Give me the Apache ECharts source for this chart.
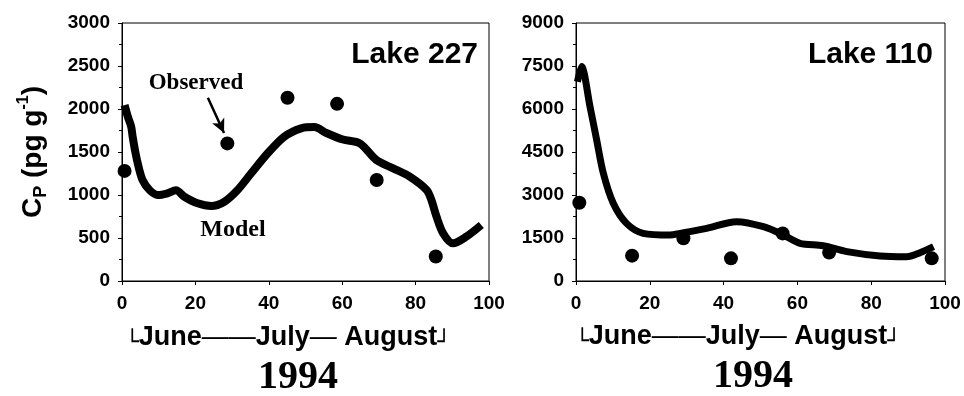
<!DOCTYPE html>
<html>
<head>
<meta charset="utf-8">
<script src="https://cdn.jsdelivr.net/npm/echarts@6/dist/echarts.min.js"></script>
<style>
  html, body { margin: 0; padding: 0; background: #fff; }
  #main { width: 964px; height: 396px; }
</style>
</head>
<body>
<div id="main"></div>
<script>
// Lake 227 - observed
var obs227X = [0.7, 28.7, 45.1, 58.6, 69.4, 85.5];
var obs227Y = [1280, 1600, 2130, 2060, 1175, 285];
// Lake 227 - model
var model227X = [0.7, 1.6, 2.5, 2.9, 3.6, 4.5, 5.6, 7.5, 9.7, 12.4, 14.7, 17, 20.6, 24.3, 27.9, 31.5, 35.2, 39.7, 44.2, 48.8, 52.4, 55.7, 60.2, 64.8, 69.3, 73.9, 78.4, 83, 84.3, 85.7, 87.5, 90.2, 93.8, 97.9];
var model227Y = [2045, 1910, 1795, 1680, 1505, 1330, 1175, 1058, 1000, 1020, 1055, 980, 903, 872, 922, 1058, 1252, 1485, 1678, 1775, 1790, 1721, 1645, 1600, 1407, 1310, 1213, 1058, 942, 748, 555, 438, 515, 651];
// Lake 110 - observed
var obs110X = [0.9, 15.2, 29.1, 42, 56, 68.6, 96.4];
var obs110Y = [2730, 885, 1490, 790, 1660, 990, 790];
// Lake 110 - model
var model110X = [0.4, 1.5, 3.8, 5.6, 7.4, 10.1, 13.7, 18.2, 25.5, 28.2, 35.4, 43.5, 50.8, 56.2, 60.7, 67, 73.4, 82.4, 89.6, 93.2, 96.9];
var model110Y = [6950, 7480, 6080, 4920, 3760, 2710, 2010, 1664, 1605, 1663, 1837, 2070, 1895, 1605, 1315, 1232, 1023, 872, 848, 988, 1198];

var xTicks = [0, 20, 40, 60, 80, 100];
var yTicks227 = [0, 500, 1000, 1500, 2000, 2500, 3000];
var yTicks110 = [0, 1500, 3000, 4500, 6000, 7500, 9000];

var sans = "'Liberation Sans', Arial, sans-serif";
var serif = "'Liberation Serif', 'Times New Roman', serif";

function pairs(xs, ys){
    var out = [];
    for(var i = 0; i < xs.length; i++){
        out.push([xs[i], ys[i]]);
    }
    return out;
}

var axisLabelStyle = { color: '#000', fontFamily: sans, fontWeight: 'bold', fontSize: 19 };

function get_label(margin){
    return Object.assign({
        margin: margin,
        formatter: function(v){ return String(v); }
    }, axisLabelStyle);
}
function xAxisFor(idx){
    return {
        gridIndex: idx,
        type: 'value',
        min: xTicks[0],
        max: xTicks[xTicks.length - 1],
        interval: xTicks[1] - xTicks[0],
        axisLine: { onZero: false, lineStyle: { color: '#000', width: 1 } },
        axisTick: { show: true, length: 4, lineStyle: { color: '#000' } },
        axisLabel: get_label(13),
        splitLine: { show: false }
    };
}
function yAxisFor(idx, ticks){
    return {
        gridIndex: idx,
        type: 'value',
        min: ticks[0],
        max: ticks[ticks.length - 1],
        interval: ticks[1] - ticks[0],
        axisLine: { show: true, lineStyle: { color: '#000', width: 1 } },
        axisTick: { show: true, length: 4, lineStyle: { color: '#000' } },
        minorTick: { show: true, splitNumber: 2, length: 3, lineStyle: { color: '#000' } },
        axisLabel: get_label(12),
        splitLine: { show: false }
    };
}

var bracketRich = {
    t: { fontFamily: sans, fontWeight: 'bold', fontSize: 27, fill: '#000', lineHeight: 32 },
    d: { fontFamily: sans, fontSize: 27, fill: '#000', lineHeight: 32 },
    b: { fontFamily: 'DejaVu Sans', fontSize: 22, fill: '#000', verticalAlign: 'bottom', lineHeight: 27 }
};
var bracketText = '{b|└}{t|June}{d|——}{t|July}{d|—}{t| August}{b|┘}';

var option = {
    backgroundColor: '#fff',
    animation: false,
    grid: [
        { left: 122, right: 475, top: 23, bottom: 115, show: true, borderColor: '#000', borderWidth: 1 },
        { left: 576, right: 19, top: 23, bottom: 115, show: true, borderColor: '#000', borderWidth: 1 }
    ],
    xAxis: [xAxisFor(0), xAxisFor(1)],
    yAxis: [yAxisFor(0, yTicks227), yAxisFor(1, yTicks110)],
    series: [
        {
            name: 'Model 227',
            type: 'line',
            xAxisIndex: 0, yAxisIndex: 0,
            data: pairs(model227X, model227Y),
            smooth: 0.3,
            showSymbol: false,
            lineStyle: { color: '#000', width: 8 },
            z: 2
        },
        {
            name: 'Observed 227',
            type: 'scatter',
            xAxisIndex: 0, yAxisIndex: 0,
            data: pairs(obs227X, obs227Y),
            symbolSize: 14,
            itemStyle: { color: '#000', opacity: 1 },
            markLine: {
                silent: true,
                symbol: ['none', 'arrow'],
                symbolSize: [10, 14],
                label: { show: false },
                lineStyle: { color: '#000', width: 2.5, type: 'solid', opacity: 1 },
                data: [[{ coord: [23.4, 2130] }, { coord: [27.8, 1720] }]]
            },
            z: 3
        },
        {
            name: 'Model 110',
            type: 'line',
            xAxisIndex: 1, yAxisIndex: 1,
            data: pairs(model110X, model110Y),
            smooth: 0.3,
            showSymbol: false,
            lineStyle: { color: '#000', width: 7 },
            z: 2
        },
        {
            name: 'Observed 110',
            type: 'scatter',
            xAxisIndex: 1, yAxisIndex: 1,
            data: pairs(obs110X, obs110Y),
            symbolSize: 14,
            itemStyle: { color: '#000', opacity: 1 },
            z: 3
        }
    ],
    graphic: [
        // y axis title
        {
            type: 'text',
            x: 33, y: 152,
            rotation: Math.PI / 2,
            style: {
                text: '{a|C}{s|P}{a| (pg g}{u|-1}{a|)}',
                align: 'center',
                verticalAlign: 'middle',
                rich: {
                    a: { fontFamily: sans, fontWeight: 'bold', fontSize: 28, fill: '#000', lineHeight: 34 },
                    s: { fontFamily: sans, fontWeight: 'bold', fontSize: 18, fill: '#000', verticalAlign: 'bottom', lineHeight: 34 },
                    u: { fontFamily: sans, fontWeight: 'bold', fontSize: 16, fill: '#000', verticalAlign: 'top', lineHeight: 34 }
                }
            }
        },
        { type: 'text', x: 478, y: 55, style: { text: 'Lake 227', align: 'right', verticalAlign: 'middle', font: 'bold 30px ' + sans, fill: '#000' } },
        { type: 'text', x: 933, y: 55, style: { text: 'Lake 110', align: 'right', verticalAlign: 'middle', font: 'bold 30px ' + sans, fill: '#000' } },
        { type: 'text', x: 196, y: 83, style: { text: 'Observed', align: 'center', verticalAlign: 'middle', font: 'bold 23px ' + serif, fill: '#000' } },
        { type: 'text', x: 233, y: 230, style: { text: 'Model', align: 'center', verticalAlign: 'middle', font: 'bold 24px ' + serif, fill: '#000' } },
        { type: 'text', x: 288, y: 338, style: { text: bracketText, align: 'center', verticalAlign: 'middle', rich: bracketRich } },
        { type: 'text', x: 738, y: 337, style: { text: bracketText, align: 'center', verticalAlign: 'middle', rich: bracketRich } },
        { type: 'text', x: 298, y: 378, style: { text: '1994', align: 'center', verticalAlign: 'middle', font: 'bold 40px ' + serif, fill: '#000' } },
        { type: 'text', x: 753, y: 377, style: { text: '1994', align: 'center', verticalAlign: 'middle', font: 'bold 40px ' + serif, fill: '#000' } }
    ]
};

var chart = echarts.init(document.getElementById('main'), null, { renderer: 'canvas' });
chart.setOption(option);
</script>
</body>
</html>
